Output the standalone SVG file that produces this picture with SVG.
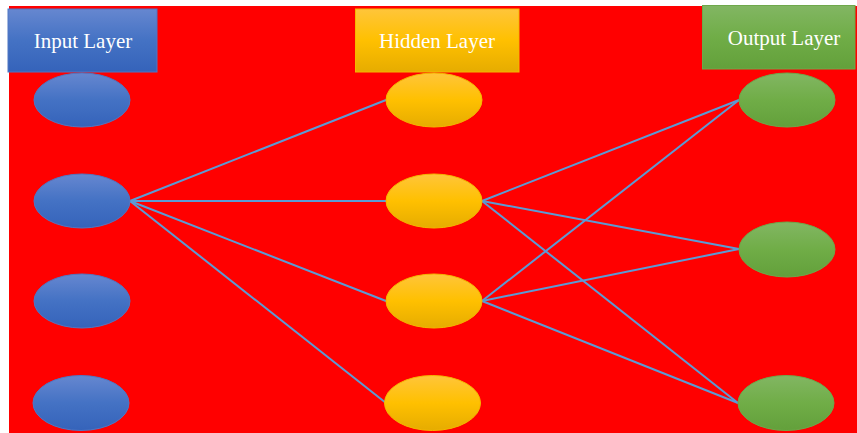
<svg xmlns="http://www.w3.org/2000/svg" width="857" height="433" viewBox="0 0 857 433">
  <defs>
    <linearGradient id="gBlue" x1="0" y1="0" x2="0" y2="1">
      <stop offset="0" stop-color="#6687D0"/>
      <stop offset="0.5" stop-color="#4472C4"/>
      <stop offset="1" stop-color="#3563BA"/>
    </linearGradient>
    <linearGradient id="gGold" x1="0" y1="0" x2="0" y2="1">
      <stop offset="0" stop-color="#FFC53A"/>
      <stop offset="0.5" stop-color="#FFC000"/>
      <stop offset="1" stop-color="#E6AC00"/>
    </linearGradient>
    <linearGradient id="gGreen" x1="0" y1="0" x2="0" y2="1">
      <stop offset="0" stop-color="#82B663"/>
      <stop offset="0.5" stop-color="#70AD47"/>
      <stop offset="1" stop-color="#63A03B"/>
    </linearGradient>
  </defs>
  <style>
    .label { font-family: "Liberation Serif", "Times New Roman", serif; font-size: 21px; fill: #FFFFFF; text-anchor: middle; }
    .in { fill: url(#gBlue); stroke: #4F77C4; stroke-width: 1; }
    .hid { fill: url(#gGold); stroke: #F5B800; stroke-width: 1; }
    .out { fill: url(#gGreen); stroke: #6EA84A; stroke-width: 1; }
    .edge { stroke: #5B9BD5; stroke-width: 2; fill: none; }
  </style>

  <!-- canvas -->
  <rect x="0" y="0" width="857" height="433" fill="#FFFFFF"/>
  <rect x="9" y="6" width="848" height="427" fill="#FF0000"/>

  <!-- connectors -->
  <g id="connectors">
    <line class="edge" x1="130" y1="201" x2="386" y2="100"/>
    <line class="edge" x1="130" y1="201" x2="386" y2="201"/>
    <line class="edge" x1="130" y1="201" x2="386" y2="301"/>
    <line class="edge" x1="130" y1="201" x2="386" y2="403"/>
    <line class="edge" x1="482" y1="201" x2="739" y2="100"/>
    <line class="edge" x1="482" y1="201" x2="739" y2="249"/>
    <line class="edge" x1="482" y1="201" x2="738" y2="403"/>
    <line class="edge" x1="482" y1="301" x2="739" y2="100"/>
    <line class="edge" x1="482" y1="301" x2="739" y2="249"/>
    <line class="edge" x1="482" y1="301" x2="738" y2="403"/>
  </g>

  <!-- layer titles -->
  <g id="title-input">
    <rect x="8" y="9" width="149" height="63" class="in"/>
    <text x="83" y="48" class="label">Input Layer</text>
  </g>
  <g id="title-hidden">
    <rect x="355.5" y="9" width="163.5" height="63" class="hid"/>
    <text x="437" y="48" class="label">Hidden Layer</text>
  </g>
  <g id="title-output">
    <rect x="702.5" y="5.5" width="152.5" height="63.5" class="out"/>
    <text x="784" y="44.5" class="label">Output Layer</text>
  </g>

  <!-- input neurons -->
  <g id="in1"><ellipse cx="82" cy="100" rx="48" ry="27" class="in"/></g>
  <g id="in2"><ellipse cx="82" cy="201" rx="48" ry="27" class="in"/></g>
  <g id="in3"><ellipse cx="82" cy="301" rx="48" ry="27" class="in"/></g>
  <g id="in4"><ellipse cx="81" cy="403" rx="48" ry="27.5" class="in"/></g>

  <!-- hidden neurons -->
  <g id="hid1"><ellipse cx="434" cy="100" rx="48" ry="27" class="hid"/></g>
  <g id="hid2"><ellipse cx="434" cy="201" rx="48" ry="27" class="hid"/></g>
  <g id="hid3"><ellipse cx="434" cy="301" rx="48" ry="27" class="hid"/></g>
  <g id="hid4"><ellipse cx="432.5" cy="403" rx="48" ry="27.5" class="hid"/></g>

  <!-- output neurons -->
  <g id="out1"><ellipse cx="787" cy="100" rx="48" ry="27" class="out"/></g>
  <g id="out2"><ellipse cx="787" cy="249.5" rx="48" ry="27.5" class="out"/></g>
  <g id="out3"><ellipse cx="786" cy="403" rx="48" ry="27.5" class="out"/></g>
</svg>
